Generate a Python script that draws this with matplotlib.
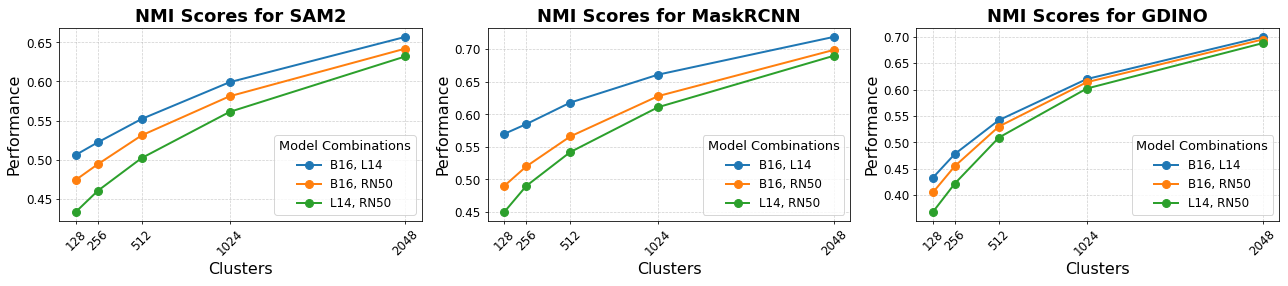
import numpy as np
import matplotlib.pyplot as plt
from matplotlib.ticker import MultipleLocator, FormatStrFormatter

clusters = [128, 256, 512, 1024, 2048]
labels = ["B16, L14", "B16, RN50", "L14, RN50"]

sam2 = [
    [0.506, 0.522, 0.552, 0.599, 0.657],
    [0.474, 0.494, 0.531, 0.581, 0.642],
    [0.433, 0.460, 0.502, 0.561, 0.632],
]
maskrcnn = [
    [0.570, 0.585, 0.618, 0.661, 0.719],
    [0.490, 0.520, 0.566, 0.628, 0.699],
    [0.450, 0.490, 0.542, 0.611, 0.690],
]
gdino = [
    [0.433, 0.478, 0.542, 0.620, 0.700],
    [0.405, 0.455, 0.530, 0.614, 0.695],
    [0.368, 0.422, 0.509, 0.602, 0.688],
]

models = ["SAM2", "MaskRCNN", "GDINO"]
scores = [sam2, maskrcnn, gdino]

fig, axes = plt.subplots(1, 3, figsize=(18, 4), dpi=1288 / 18)
for ax, name, data in zip(axes, models, scores):
    for lab, vals in zip(labels, data):
        ax.plot(clusters, vals, marker="o", markersize=8, linewidth=2, label=lab)
    ax.set_title(f"NMI Scores for {name}", fontsize=18, fontweight="bold")
    ax.set_xlabel("Clusters", fontsize=16)
    ax.set_ylabel("Performance", fontsize=16)
    ax.set_xticks(clusters)
    ax.set_xticklabels(clusters, rotation=45)
    ax.tick_params(labelsize=12)
    ax.yaxis.set_major_locator(MultipleLocator(0.05))
    ax.yaxis.set_major_formatter(FormatStrFormatter("%.2f"))
    ax.grid(True, linestyle="--", linewidth=0.7, alpha=0.6)
    ax.legend(title="Model Combinations", loc="lower right", fontsize=12, title_fontsize=13)

plt.subplots_adjust(left=0.046, right=0.993, top=0.901, bottom=0.228, wspace=0.182)
plt.savefig("out.png")
